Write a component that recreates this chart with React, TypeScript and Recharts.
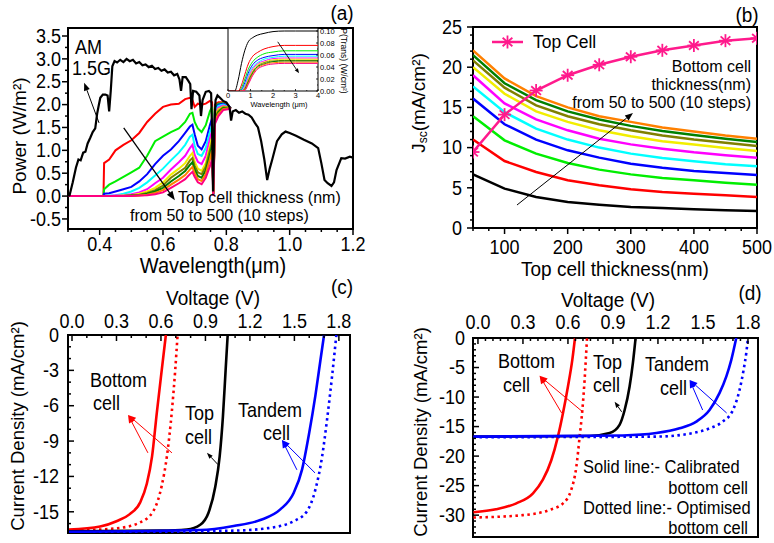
import React from 'react';
import { LineChart, Line, XAxis, YAxis, ReferenceArea, ReferenceLine } from 'recharts';

const FONT = '"Liberation Sans", Arial, sans-serif';
const SY = 1.08; // the reference glyphs are a little taller than wide

// ---------- (a) AM1.5G spectrum and transmitted power ----------
const AM_WL = [0.3, 0.305, 0.315, 0.325, 0.333, 0.34, 0.348, 0.355, 0.362, 0.37, 0.378, 0.386, 0.392, 0.397, 0.402, 0.41, 0.418, 0.425, 0.43, 0.435, 0.44, 0.447, 0.455, 0.465, 0.475, 0.485, 0.495, 0.505, 0.515, 0.525, 0.535, 0.545, 0.555, 0.565, 0.575, 0.585, 0.595, 0.605, 0.615, 0.625, 0.635, 0.645, 0.652, 0.657, 0.662, 0.672, 0.68, 0.686, 0.69, 0.695, 0.705, 0.715, 0.72, 0.725, 0.735, 0.745, 0.752, 0.755, 0.758, 0.762, 0.766, 0.772, 0.78, 0.79, 0.8, 0.81, 0.815, 0.82, 0.83, 0.84, 0.85, 0.86, 0.87, 0.88, 0.89, 0.9, 0.91, 0.92, 0.929, 0.937, 0.945, 0.96, 0.975, 0.987, 1.0, 1.02, 1.045, 1.07, 1.09, 1.1, 1.11, 1.12, 1.132, 1.14, 1.148, 1.163, 1.175, 1.19, 1.2];
const AM_P = [0, 0.02, 0.3, 0.62, 0.8, 0.78, 0.95, 0.97, 1.15, 1.27, 1.4, 1.48, 1.8, 1.98, 2.15, 2.22, 2.22, 2.2, 1.85, 2.3, 2.84, 2.95, 2.92, 2.98, 2.93, 3.0, 2.95, 2.98, 2.9, 2.93, 2.86, 2.88, 2.82, 2.85, 2.78, 2.8, 2.74, 2.77, 2.7, 2.72, 2.64, 2.67, 2.55, 2.3, 2.6, 2.6, 2.52, 2.45, 1.9, 2.3, 2.28, 2.2, 1.75, 2.1, 2.28, 2.3, 2.25, 1.4, 0.1, 1.5, 2.1, 2.2, 2.15, 2.08, 2.05, 1.95, 1.65, 1.85, 1.88, 1.82, 1.85, 1.8, 1.78, 1.72, 1.6, 1.5, 1.2, 0.8, 0.35, 0.6, 0.8, 1.2, 1.35, 1.41, 1.38, 1.32, 1.23, 1.15, 1.05, 0.72, 0.35, 0.28, 0.22, 0.3, 0.57, 0.83, 0.82, 0.86, 0.84];

const TR_WL = [0.3, 0.405, 0.412, 0.414, 0.43, 0.45, 0.475, 0.5, 0.525, 0.55, 0.575, 0.6, 0.625, 0.65, 0.67, 0.685, 0.693, 0.7, 0.71, 0.722, 0.735, 0.748, 0.755, 0.759, 0.764, 0.775, 0.79, 0.805, 0.815];
const TR_50 = [0, 0, 0, 0.72, 0.8, 1.0, 1.12, 1.22, 1.38, 1.62, 1.8, 1.95, 2.0, 2.02, 2.12, 2.15, 2.1, 1.95, 2.02, 2.0, 2.02, 2.08, 2.05, 0.05, 2.0, 2.05, 2.05, 1.98, 1.92];
const TR_100 = [0, 0, 0, 0.15, 0.25, 0.32, 0.42, 0.52, 0.62, 0.88, 1.2, 1.3, 1.4, 1.48, 1.62, 1.8, 1.82, 1.62, 1.48, 1.4, 1.55, 1.85, 1.95, 0.05, 1.95, 2.02, 2.03, 1.97, 1.92];
const TR_150 = [0, 0, 0, 0.05, 0.06, 0.1, 0.15, 0.2, 0.32, 0.48, 0.7, 0.88, 1.02, 1.2, 1.38, 1.52, 1.56, 1.35, 1.1, 1.02, 1.2, 1.55, 1.7, 0.05, 1.9, 2.0, 2.02, 1.97, 1.92];
const TR_200 = [0, 0, 0, 0, 0.01, 0.02, 0.05, 0.1, 0.18, 0.3, 0.45, 0.6, 0.78, 0.95, 1.12, 1.3, 1.34, 1.1, 0.92, 0.88, 1.05, 1.4, 1.55, 0.05, 1.85, 1.97, 2.0, 1.96, 1.92];
const TR_250 = [0, 0, 0, 0, 0, 0.01, 0.02, 0.04, 0.08, 0.15, 0.28, 0.4, 0.58, 0.74, 0.88, 1.05, 1.12, 0.9, 0.75, 0.7, 0.88, 1.25, 1.42, 0.05, 1.8, 1.93, 1.98, 1.95, 1.92];
const TR_300 = [0, 0, 0, 0, 0, 0, 0.01, 0.02, 0.05, 0.1, 0.18, 0.3, 0.47, 0.6, 0.72, 0.88, 0.94, 0.75, 0.6, 0.55, 0.72, 1.1, 1.3, 0.05, 1.76, 1.9, 1.96, 1.94, 1.92];
const TR_350 = [0, 0, 0, 0, 0, 0, 0, 0.01, 0.03, 0.07, 0.13, 0.23, 0.4, 0.52, 0.62, 0.78, 0.83, 0.66, 0.52, 0.48, 0.64, 1.0, 1.2, 0.05, 1.72, 1.86, 1.94, 1.93, 1.92];
const TR_400 = [0, 0, 0, 0, 0, 0, 0, 0.01, 0.02, 0.05, 0.1, 0.18, 0.32, 0.44, 0.55, 0.68, 0.74, 0.58, 0.44, 0.4, 0.56, 0.9, 1.1, 0.05, 1.68, 1.83, 1.92, 1.93, 1.92];
const TR_450 = [0, 0, 0, 0, 0, 0, 0, 0, 0.01, 0.03, 0.07, 0.13, 0.25, 0.36, 0.46, 0.58, 0.64, 0.5, 0.37, 0.33, 0.48, 0.8, 1.0, 0.05, 1.64, 1.8, 1.9, 1.92, 1.92];
const TR_500 = [0, 0, 0, 0, 0, 0, 0, 0, 0.01, 0.02, 0.04, 0.08, 0.18, 0.28, 0.37, 0.48, 0.53, 0.42, 0.3, 0.26, 0.4, 0.65, 0.8, 0.0, 1.58, 1.75, 1.88, 1.9, 1.92];
const TR_SERIES = [TR_50, TR_100, TR_150, TR_200, TR_250, TR_300, TR_350, TR_400, TR_450, TR_500];

// inset: transmitted power vs wavelength
const IN_WL = [0, 0.3, 0.45, 0.6, 0.75, 0.9, 1.1, 1.3, 1.6, 2.0, 2.5, 3.0, 4.0];
const IN_AM = [0, 0, 0.018, 0.046, 0.068, 0.082, 0.089, 0.093, 0.096, 0.099, 0.1, 0.1, 0.1];
const IN_50 = [0, 0, 0, 0.01, 0.028, 0.045, 0.058, 0.064, 0.07, 0.074, 0.076, 0.076, 0.076];
const IN_100 = [0, 0, 0, 0.005, 0.02, 0.036, 0.049, 0.056, 0.062, 0.065, 0.067, 0.067, 0.067];
const IN_150 = [0, 0, 0, 0.002, 0.014, 0.03, 0.044, 0.051, 0.056, 0.059, 0.061, 0.061, 0.061];
const IN_200 = [0, 0, 0, 0.001, 0.01, 0.026, 0.04, 0.047, 0.053, 0.056, 0.058, 0.058, 0.058];
const IN_250 = [0, 0, 0, 0, 0.007, 0.022, 0.037, 0.045, 0.05, 0.054, 0.055, 0.055, 0.055];
const IN_300 = [0, 0, 0, 0, 0.005, 0.019, 0.034, 0.043, 0.048, 0.052, 0.053, 0.053, 0.053];
const IN_350 = [0, 0, 0, 0, 0.004, 0.017, 0.032, 0.041, 0.047, 0.05, 0.051, 0.051, 0.051];
const IN_400 = [0, 0, 0, 0, 0.003, 0.015, 0.03, 0.04, 0.045, 0.049, 0.05, 0.05, 0.05];
const IN_450 = [0, 0, 0, 0, 0.002, 0.013, 0.028, 0.038, 0.044, 0.047, 0.048, 0.048, 0.048];
const IN_500 = [0, 0, 0, 0, 0.001, 0.011, 0.026, 0.036, 0.042, 0.045, 0.046, 0.046, 0.046];
const IN_SERIES = [IN_50, IN_100, IN_150, IN_200, IN_250, IN_300, IN_350, IN_400, IN_450, IN_500];

const A_COLORS = ['#ff0000', '#00ee00', '#0000ff', '#00ffff', '#ff00ff', '#f2ee00', '#808000', '#008000', '#ff8000', '#ff0080'];

// ---------- (b) Jsc vs top cell thickness ----------
const THICK = [50, 100, 150, 200, 250, 300, 350, 400, 450, 500];
const BOT_50 = [6.67, 4.9, 3.86, 3.23, 2.9, 2.61, 2.49, 2.32, 2.2, 2.11];
const BOT_100 = [11.0, 8.33, 6.97, 5.93, 5.31, 4.81, 4.48, 4.27, 4.06, 3.86];
const BOT_150 = [13.9, 10.9, 9.25, 8.08, 7.26, 6.67, 6.22, 5.93, 5.64, 5.39];
const BOT_200 = [16.1, 12.9, 11.0, 9.66, 8.75, 8.0, 7.5, 7.09, 6.84, 6.59];
const BOT_250 = [17.6, 14.4, 12.35, 11.0, 10.0, 9.25, 8.7, 8.29, 7.92, 7.67];
const BOT_300 = [19.0, 15.5, 13.5, 12.15, 11.1, 10.4, 9.87, 9.41, 9.04, 8.75];
const BOT_350 = [20.0, 16.7, 14.5, 13.2, 12.15, 11.4, 10.8, 10.4, 9.95, 9.58];
const BOT_400 = [20.85, 17.45, 15.26, 13.9, 12.9, 12.15, 11.5, 11.0, 10.6, 10.2];
const BOT_450 = [21.5, 18.0, 15.9, 14.5, 13.5, 12.7, 12.06, 11.57, 11.1, 10.7];
const BOT_500 = [22.1, 18.6, 16.4, 15.0, 13.9, 13.2, 12.5, 12.0, 11.5, 11.1];
const TOP_CELL = [9.45, 14.1, 17.1, 19.0, 20.3, 21.3, 22.1, 22.7, 23.3, 23.6];
const BOT_SERIES = [BOT_50, BOT_100, BOT_150, BOT_200, BOT_250, BOT_300, BOT_350, BOT_400, BOT_450, BOT_500];
const B_COLORS = ['#000000', '#ff0000', '#00ee00', '#0000ff', '#00ffff', '#ff00ff', '#f2ee00', '#808000', '#008000', '#ff8000'];
const PINK = '#ff1a8c';

// ---------- (c) J-V curves ----------
const C_BOT_V = [-0.02, 0.19, 0.3, 0.39, 0.46, 0.505, 0.54, 0.572, 0.605, 0.633];
const C_BOT_J = [-16.5, -16.25, -15.8, -15.2, -14.2, -12.6, -10.3, -6.6, -3.0, 0];
const C_BOTOPT_V = [-0.02, 0.3, 0.46, 0.55, 0.605, 0.64, 0.674, 0.696, 0.712];
const C_BOTOPT_J = [-16.6, -16.4, -15.9, -14.9, -12.8, -10.3, -6.4, -3.0, 0];
const C_TOP_V = [-0.02, 0.6, 0.775, 0.865, 0.92, 0.966, 0.996, 1.018, 1.036, 1.05];
const C_TOP_J = [-16.65, -16.6, -16.5, -16.1, -15.1, -12.9, -10.3, -6.9, -3.0, 0];
const C_TAN_V = [-0.02, 0.865, 1.09, 1.27, 1.405, 1.495, 1.552, 1.597, 1.642, 1.676, 1.7];
const C_TAN_J = [-16.7, -16.55, -16.2, -15.7, -14.8, -13.4, -11.4, -8.5, -5.1, -2.1, 0];
const C_TANOPT_V = [-0.02, 1.09, 1.315, 1.495, 1.585, 1.642, 1.687, 1.72, 1.754, 1.783];
const C_TANOPT_J = [-16.75, -16.6, -16.4, -15.8, -14.95, -13.1, -10.3, -7.2, -3.5, 0];

// ---------- (d) J-V curves ----------
const D_BOT_V = [-0.03, 0.12, 0.256, 0.367, 0.433, 0.489, 0.533, 0.567, 0.6, 0.629, 0.647];
const D_BOT_J = [-29.5, -29.0, -28.0, -26.3, -24.0, -20.7, -16.7, -12.7, -8.2, -3.7, 0];
const D_BOTOPT_V = [-0.03, 0.3, 0.478, 0.567, 0.622, 0.656, 0.678, 0.696, 0.711, 0.727];
const D_BOTOPT_J = [-30.4, -30.0, -29.1, -28.0, -25.7, -21.8, -16.7, -12.2, -7.1, 0];
const D_TOP_V = [-0.03, 0.745, 0.878, 0.944, 0.978, 1.011, 1.033, 1.051];
const D_TOP_J = [-16.7, -16.6, -16.1, -14.7, -12.2, -8.2, -4.2, 0];
const D_TAN_V = [-0.03, 0.967, 1.189, 1.344, 1.456, 1.544, 1.611, 1.656, 1.689, 1.722];
const D_TAN_J = [-16.7, -16.5, -16.1, -15.3, -14.15, -12.2, -9.3, -6.5, -3.7, 0];
const D_TANOPT_V = [-0.03, 1.189, 1.411, 1.544, 1.633, 1.7, 1.744, 1.771, 1.789, 1.8];
const D_TANOPT_J = [-16.8, -16.7, -16.2, -15.3, -14.15, -12.2, -8.8, -5.4, -2.5, 0];

// ---------- tick labels ----------
const A_XMAJ = [0.4, 0.6, 0.8, 1.0, 1.2];
const A_YMAJ = [-0.5, 0, 0.5, 1.0, 1.5, 2.0, 2.5, 3.0, 3.5];
const IN_XMAJ = [0, 1, 2, 3, 4];
const IN_YMAJ = [0, 0.02, 0.04, 0.06, 0.08, 0.1];
const B_XMAJ = [100, 200, 300, 400, 500];
const B_YMAJ = [0, 5, 10, 15, 20, 25];
const V_MAJ = [0, 0.3, 0.6, 0.9, 1.2, 1.5, 1.8];
const C_YMAJ = [0, -3, -6, -9, -12, -15];
const D_YMAJ = [0, -5, -10, -15, -20, -25, -30];

const steps = (a: number, b: number, s: number) => {
  const out: number[] = [];
  for (let v = a; v <= b + 1e-9; v += s) out.push(+v.toFixed(4));
  return out;
};

const pts = (xs: number[], ys: number[]) => xs.map((x, i) => ({ x, y: ys[i] }));

// horizontal text, slightly stretched vertically
const HText = ({ x, y, fs, anchor = 'start', sy = SY, children }: any) => (
  <text
    x={0}
    y={0}
    fontSize={fs}
    textAnchor={anchor}
    dominantBaseline="central"
    fontFamily={FONT}
    fill="#000"
    transform={`translate(${x} ${y}) scale(1 ${sy})`}
  >
    {children}
  </text>
);

const makeTick = (c: any) => (p: any) => {
  const v = Number(p.payload.value);
  const major = c.majors.some((m: number) => Math.abs(m - v) < 1e-6);
  const len = major ? c.major ?? 6 : c.minor ?? 3;
  const out = c.side === 'bottom' || c.side === 'right' ? 1 : -1;
  const d = c.inward ? -out : out;
  const horiz = c.side === 'bottom' || c.side === 'top';
  const { x, y } = p;
  const sw = c.sw ?? 1.5;
  return (
    <g>
      {horiz ? (
        <line x1={x} y1={y} x2={x} y2={y + d * len} stroke="#000" strokeWidth={sw} />
      ) : (
        <line x1={x} y1={y} x2={x + d * len} y2={y} stroke="#000" strokeWidth={sw} />
      )}
      {major &&
        (horiz ? (
          <HText x={x} y={y + out * c.gap} fs={c.fs} anchor="middle">
            {c.fmt(v)}
          </HText>
        ) : (
          <HText x={x + out * c.gap} y={y} fs={c.fs} anchor={out < 0 ? 'end' : 'start'}>
            {c.fmt(v)}
          </HText>
        ))}
    </g>
  );
};

const arrow = (color: string, w = 1.2, head = 8) => (p: any) => {
  const { x1, y1, x2, y2 } = p;
  const a = Math.atan2(y2 - y1, x2 - x1);
  const hx = x2 - head * Math.cos(a);
  const hy = y2 - head * Math.sin(a);
  const px = Math.sin(a) * head * 0.38;
  const py = -Math.cos(a) * head * 0.38;
  return (
    <g>
      <line x1={x1} y1={y1} x2={hx} y2={hy} stroke={color} strokeWidth={w} />
      <polygon points={`${x2},${y2} ${hx + px},${hy + py} ${hx - px},${hy - py}`} fill={color} />
    </g>
  );
};

const Star = ({ cx, cy, r = 6.5, color = PINK }: any) => (
  <g stroke={color} strokeWidth={1.8}>
    <line x1={cx} y1={cy - r} x2={cx} y2={cy + r} />
    <line x1={cx - r * 0.75} y1={cy - r * 0.66} x2={cx + r * 0.75} y2={cy + r * 0.66} />
    <line x1={cx - r * 0.75} y1={cy + r * 0.66} x2={cx + r * 0.75} y2={cy - r * 0.66} />
    <line x1={cx - r} y1={cy} x2={cx + r} y2={cy} />
  </g>
);

const T = ({ x, y, fs = 18, anchor = 'start', rot = 0, sy = SY, children }: any) =>
  rot ? (
    <text x={x} y={y} fontSize={fs} textAnchor={anchor} dominantBaseline="central" fontFamily={FONT} fill="#000"
      transform={`rotate(${rot} ${x} ${y})`}>
      {children}
    </text>
  ) : (
    <HText x={x} y={y} fs={fs} anchor={anchor} sy={sy}>
      {children}
    </HText>
  );

const box = (left: number, top: number): React.CSSProperties => ({ position: 'absolute', left, top });
const frame = (x: number[], y: number[]) => (
  <ReferenceArea x1={x[0]} x2={x[1]} y1={y[0]} y2={y[1]} fill="none" stroke="#000" strokeWidth={2} ifOverflow="visible" />
);

const A_XD = [0.3, 1.2];
const A_YD = [-0.72, 3.675];
const IN_XD = [0, 4];
const IN_YD = [0, 0.105];
const B_XD = [50, 500];
const B_YD = [0, 25];
const C_XD = [-0.027, 1.875];
const C_YD = [-16.8, 0];
const D_XD = [-0.033, 1.867];
const D_YD = [-33.7, 0];

export default function App() {
  return (
    <div style={{ position: 'absolute', left: 0, top: 0, width: 774, height: 543, background: '#fff', fontFamily: FONT }}>
      {/* (a) */}
      <div style={box(0, 0)}>
        <LineChart width={370} height={260} margin={{ top: 28, right: 17, bottom: 11, left: 28 }}>
          <XAxis type="number" dataKey="x" domain={A_XD} allowDataOverflow ticks={steps(0.3, 1.2, 0.05)} interval={0} height={20}
            axisLine={false} tickLine={false} tickSize={0} tickMargin={0}
            tick={makeTick({ majors: A_XMAJ, fmt: (v: number) => v.toFixed(1), side: 'bottom', gap: 15, fs: 18 })} />
          <YAxis type="number" domain={A_YD} allowDataOverflow ticks={steps(-0.5, 3.5, 0.25)} interval={0} width={40}
            axisLine={false} tickLine={false} tickSize={0} tickMargin={0}
            tick={makeTick({ majors: A_YMAJ, fmt: (v: number) => v.toFixed(1), side: 'left', gap: 7, fs: 18 })} />
          {frame(A_XD, A_YD)}
          {TR_SERIES.map((s, i) => (
            <Line key={i} data={pts(TR_WL, s)} dataKey="y" stroke={A_COLORS[i]} strokeWidth={2} dot={false} isAnimationActive={false} type="linear" />
          ))}
          <Line data={pts(AM_WL, AM_P)} dataKey="y" stroke="#000" strokeWidth={2.2} dot={false} isAnimationActive={false} type="linear" />
          <ReferenceLine segment={[{ x: 0.398, y: 1.6 }, { x: 0.351, y: 2.48 }]} shape={arrow('#000', 1)} />
          <ReferenceLine segment={[{ x: 0.476, y: 1.49 }, { x: 0.6375, y: -0.09 }]} shape={arrow('#000', 1.3, 9)} />
        </LineChart>
      </div>
      {/* (a) inset */}
      <div style={box(222, 24)}>
        <LineChart width={131} height={80} margin={{ top: 4, right: 0, bottom: 3, left: 6 }}>
          <XAxis type="number" dataKey="x" domain={IN_XD} allowDataOverflow ticks={steps(0, 4, 0.5)} interval={0} height={10}
            axisLine={false} tickLine={false} tickSize={0} tickMargin={0}
            tick={makeTick({ majors: IN_XMAJ, fmt: (v: number) => String(v), side: 'bottom', gap: 4, fs: 7.5, major: 2, minor: 1, sw: 0.8, inward: true })} />
          <YAxis orientation="right" type="number" domain={IN_YD} allowDataOverflow ticks={steps(0, 0.1, 0.01)} interval={0} width={35}
            axisLine={false} tickLine={false} tickSize={0} tickMargin={0}
            tick={makeTick({ majors: IN_YMAJ, fmt: (v: number) => v.toFixed(2), side: 'right', gap: 2, fs: 7.5, major: 2, minor: 1, sw: 0.8, inward: true })} />
          <ReferenceArea x1={0} x2={4} y1={0} y2={0.105} fill="#fff" stroke="#000" strokeWidth={1} ifOverflow="visible" />
          {IN_SERIES.map((s, i) => (
            <Line key={i} data={pts(IN_WL, s)} dataKey="y" stroke={A_COLORS[i]} strokeWidth={1} dot={false} isAnimationActive={false} type="monotone" />
          ))}
          <Line data={pts(IN_WL, IN_AM)} dataKey="y" stroke="#000" strokeWidth={1} dot={false} isAnimationActive={false} type="monotone" />
          <ReferenceLine segment={[{ x: 2.21, y: 0.082 }, { x: 3.16, y: 0.0294 }]} shape={arrow('#000', 0.9, 5)} />
        </LineChart>
      </div>
      {/* (b) */}
      <div style={box(380, 0)}>
        <LineChart width={394} height={280} margin={{ top: 27, right: 17, bottom: 32, left: 53 }}>
          <XAxis type="number" dataKey="x" domain={B_XD} allowDataOverflow ticks={steps(50, 500, 25)} interval={0} height={20}
            axisLine={false} tickLine={false} tickSize={0} tickMargin={0}
            tick={makeTick({ majors: B_XMAJ, fmt: (v: number) => String(v), side: 'bottom', gap: 19, fs: 18 })} />
          <YAxis type="number" domain={B_YD} allowDataOverflow ticks={steps(0, 25, 1)} interval={0} width={40}
            axisLine={false} tickLine={false} tickSize={0} tickMargin={0}
            tick={makeTick({ majors: B_YMAJ, fmt: (v: number) => String(v), side: 'left', gap: 11, fs: 18 })} />
          {frame(B_XD, B_YD)}
          {BOT_SERIES.map((s, i) => (
            <Line key={i} data={pts(THICK, s)} dataKey="y" stroke={B_COLORS[i]} strokeWidth={2.5} dot={false} isAnimationActive={false} type="linear" />
          ))}
          <Line data={pts(THICK, TOP_CELL)} dataKey="y" stroke={PINK} strokeWidth={2.5} isAnimationActive={false} type="linear"
            dot={(p: any) => <Star key={p.index} cx={p.cx} cy={p.cy} />} />
          <ReferenceLine segment={[{ x: 119.7, y: 2.86 }, { x: 303.5, y: 14.3 }]} shape={arrow('#000', 1)} />
        </LineChart>
      </div>
      {/* (c) */}
      <div style={box(0, 270)}>
        <LineChart width={380} height={273} margin={{ top: 45, right: 30, bottom: 10, left: 28 }}>
          <XAxis orientation="top" type="number" dataKey="x" domain={C_XD} allowDataOverflow ticks={steps(0, 1.8, 0.1)} interval={0} height={20}
            axisLine={false} tickLine={false} tickSize={0} tickMargin={0}
            tick={makeTick({ majors: V_MAJ, fmt: (v: number) => v.toFixed(1), side: 'top', gap: 14, fs: 18, inward: true })} />
          <YAxis type="number" domain={C_YD} allowDataOverflow ticks={steps(-16, 0, 1)} interval={0} width={40}
            axisLine={false} tickLine={false} tickSize={0} tickMargin={0}
            tick={makeTick({ majors: C_YMAJ, fmt: (v: number) => String(v), side: 'left', gap: 9, fs: 18, inward: true })} />
          {frame(C_XD, C_YD)}
          <Line data={pts(C_BOT_V, C_BOT_J)} dataKey="y" stroke="#ff0000" strokeWidth={2.6} dot={false} isAnimationActive={false} type="monotone" />
          <Line data={pts(C_BOTOPT_V, C_BOTOPT_J)} dataKey="y" stroke="#ff0000" strokeWidth={2.6} strokeDasharray="2.5 3.5" dot={false} isAnimationActive={false} type="monotone" />
          <Line data={pts(C_TOP_V, C_TOP_J)} dataKey="y" stroke="#000" strokeWidth={2.6} dot={false} isAnimationActive={false} type="monotone" />
          <Line data={pts(C_TAN_V, C_TAN_J)} dataKey="y" stroke="#0000ff" strokeWidth={2.6} dot={false} isAnimationActive={false} type="monotone" />
          <Line data={pts(C_TANOPT_V, C_TANOPT_J)} dataKey="y" stroke="#0000ff" strokeWidth={2.6} strokeDasharray="2.5 3.5" dot={false} isAnimationActive={false} type="monotone" />
          <ReferenceLine segment={[{ x: 0.512, y: -10.0 }, { x: 0.378, y: -6.78 }]} shape={arrow('#ff0000', 1)} />
          <ReferenceLine segment={[{ x: 0.674, y: -10.0 }, { x: 0.378, y: -6.78 }]} shape={arrow('#ff0000', 1)} />
          <ReferenceLine segment={[{ x: 0.985, y: -11.0 }, { x: 0.91, y: -10.0 }]} shape={arrow('#000', 1, 6)} />
          <ReferenceLine segment={[{ x: 1.517, y: -11.44 }, { x: 1.416, y: -8.9 }]} shape={arrow('#0000ff', 1)} />
          <ReferenceLine segment={[{ x: 1.639, y: -11.7 }, { x: 1.416, y: -8.9 }]} shape={arrow('#0000ff', 1)} />
        </LineChart>
      </div>
      {/* (d) */}
      <div style={box(390, 270)}>
        <LineChart width={384} height={273} margin={{ top: 48, right: 16, bottom: 6, left: 43 }}>
          <XAxis orientation="top" type="number" dataKey="x" domain={D_XD} allowDataOverflow ticks={steps(0, 1.8, 0.05)} interval={0} height={20}
            axisLine={false} tickLine={false} tickSize={0} tickMargin={0}
            tick={makeTick({ majors: V_MAJ, fmt: (v: number) => v.toFixed(1), side: 'top', gap: 16, fs: 18, inward: true })} />
          <YAxis type="number" domain={D_YD} allowDataOverflow ticks={steps(-33, 0, 1)} interval={0} width={40}
            axisLine={false} tickLine={false} tickSize={0} tickMargin={0}
            tick={makeTick({ majors: D_YMAJ, fmt: (v: number) => String(v), side: 'left', gap: 8, fs: 18, inward: true })} />
          {frame(D_XD, D_YD)}
          <Line data={pts(D_BOT_V, D_BOT_J)} dataKey="y" stroke="#ff0000" strokeWidth={2.6} dot={false} isAnimationActive={false} type="monotone" />
          <Line data={pts(D_BOTOPT_V, D_BOTOPT_J)} dataKey="y" stroke="#ff0000" strokeWidth={2.6} strokeDasharray="2.5 3.5" dot={false} isAnimationActive={false} type="monotone" />
          <Line data={pts(D_TOP_V, D_TOP_J)} dataKey="y" stroke="#000" strokeWidth={2.6} dot={false} isAnimationActive={false} type="monotone" />
          <Line data={pts(D_TAN_V, D_TAN_J)} dataKey="y" stroke="#0000ff" strokeWidth={2.6} dot={false} isAnimationActive={false} type="monotone" />
          <Line data={pts(D_TANOPT_V, D_TANOPT_J)} dataKey="y" stroke="#0000ff" strokeWidth={2.6} strokeDasharray="2.5 3.5" dot={false} isAnimationActive={false} type="monotone" />
          <ReferenceLine segment={[{ x: 0.558, y: -12.7 }, { x: 0.411, y: -6.4 }]} shape={arrow('#ff0000', 1)} />
          <ReferenceLine segment={[{ x: 0.698, y: -12.5 }, { x: 0.411, y: -6.4 }]} shape={arrow('#ff0000', 1)} />
          <ReferenceLine segment={[{ x: 0.958, y: -12.5 }, { x: 0.911, y: -10.8 }]} shape={arrow('#000', 1, 6)} />
          <ReferenceLine segment={[{ x: 1.498, y: -12.2 }, { x: 1.411, y: -7.1 }]} shape={arrow('#0000ff', 1)} />
          <ReferenceLine segment={[{ x: 1.658, y: -12.7 }, { x: 1.411, y: -7.1 }]} shape={arrow('#0000ff', 1)} />
        </LineChart>
      </div>

      {/* text layer */}
      <svg width={774} height={543} style={{ position: 'absolute', left: 0, top: 0, pointerEvents: 'none' }}>
        {/* (a) */}
        <T x={342} y={13} fs={19} anchor="middle">(a)</T>
        <T x={19} y={136} fs={19} anchor="middle" rot={-90}>Power (W/m²)</T>
        <T x={213} y={265} fs={20} anchor="middle">Wavelength(μm)</T>
        <T x={75} y={47} fs={18}>AM</T>
        <T x={72} y={68} fs={18}>1.5G</T>
        <T x={178} y={197} fs={16} sy={1}>Top cell thickness (nm)</T>
        <T x={130} y={215} fs={16} sy={1}>from 50 to 500 (10 steps)</T>
        <T x={279} y={104} fs={7.5} anchor="middle">Wavelength (μm)</T>
        <T x={344} y={61} fs={8.5} anchor="middle" rot={90}>P(Trans) (W/cm²)</T>
        {/* (b) */}
        <T x={747} y={15} fs={19} anchor="middle">(b)</T>
        <text x={418} y={103} fontSize={19} fontFamily={FONT} textAnchor="middle" dominantBaseline="central" transform="rotate(-90 418 103)">
          J<tspan fontSize={12} dy={5}>sc</tspan>
          <tspan dy={-5}>(mA/cm²)</tspan>
        </text>
        <T x={615} y={269} fs={19} anchor="middle">Top cell thickness(nm)</T>
        <line x1={492} y1={42} x2={523} y2={42} stroke={PINK} strokeWidth={2.5} />
        <Star cx={507.5} cy={42} />
        <T x={533} y={42} fs={17.5}>Top Cell</T>
        <T x={751} y={66} fs={16} anchor="end" sy={1}>Bottom cell</T>
        <T x={751} y={84} fs={16} anchor="end" sy={1}>thickness(nm)</T>
        <T x={751} y={102} fs={16} anchor="end" sy={1}>from 50 to 500 (10 steps)</T>
        {/* (c) */}
        <T x={342} y={287} fs={19} anchor="middle">(c)</T>
        <T x={213} y={298} fs={19} anchor="middle">Voltage (V)</T>
        <T x={17} y={426} fs={18.5} anchor="middle" rot={-90}>Current Density (mA/cm²)</T>
        <T x={90} y={380} fs={18}>Bottom</T>
        <T x={93} y={403} fs={18}>cell</T>
        <T x={185} y={413} fs={18}>Top</T>
        <T x={185} y={437} fs={18}>cell</T>
        <T x={238} y={410} fs={18}>Tandem</T>
        <T x={263} y={433} fs={18}>cell</T>
        {/* (d) */}
        <T x={750} y={293} fs={19} anchor="middle">(d)</T>
        <T x={608} y={300} fs={19} anchor="middle">Voltage (V)</T>
        <T x={420} y={432} fs={18.5} anchor="middle" rot={-90}>Current Density (mA/cm²)</T>
        <T x={498} y={361} fs={18}>Bottom</T>
        <T x={503} y={385} fs={18}>cell</T>
        <T x={593} y={362} fs={18}>Top</T>
        <T x={593} y={385} fs={18}>cell</T>
        <T x={645} y={364} fs={18}>Tandem</T>
        <T x={660} y={388} fs={18}>cell</T>
        <T x={583} y={467} fs={16.5}>Solid line:- Calibrated</T>
        <T x={748} y={488} fs={16.5} anchor="end">bottom cell</T>
        <T x={583} y={508} fs={16.5}>Dotted line:- Optimised</T>
        <T x={748} y={528} fs={16.5} anchor="end">bottom cell</T>
      </svg>
    </div>
  );
}
